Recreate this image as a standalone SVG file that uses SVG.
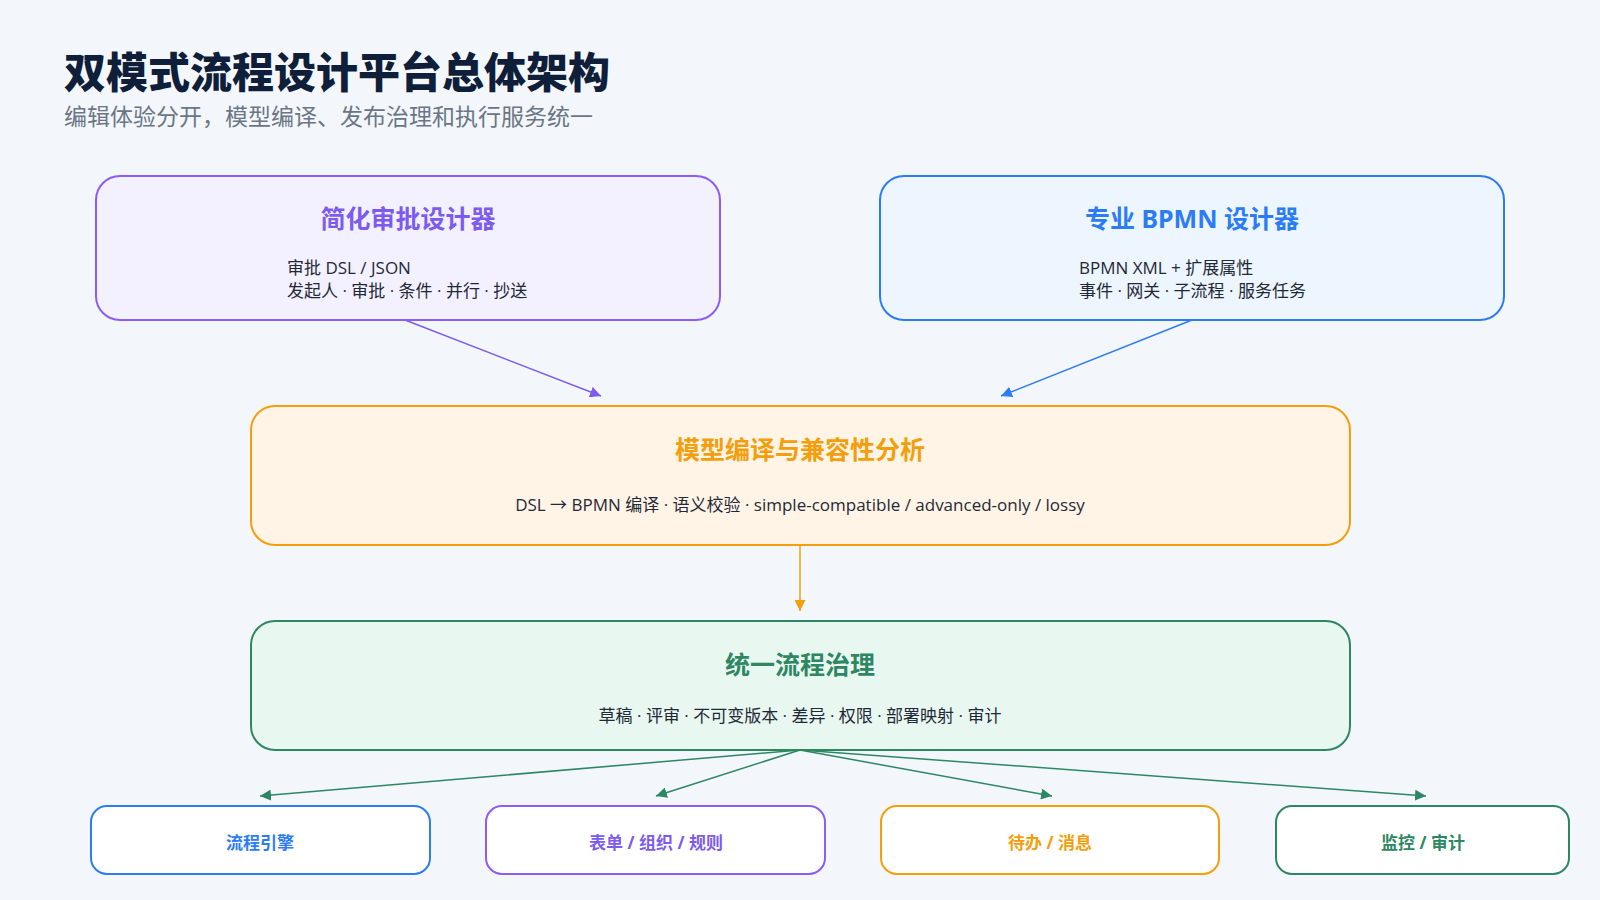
<svg xmlns="http://www.w3.org/2000/svg" width="1600" height="900" viewBox="0 0 1600 900">
<defs>
<style>
.cjk{font-family:"Noto Sans","Noto Sans CJK SC",sans-serif}
.h1{font-size:42px;font-weight:800;fill:#0f1f3a}
.sub{font-size:23px;fill:#6b7685}
.bt{font-size:25px;font-weight:700;text-anchor:middle}
.body{font-size:17px;fill:#1f2937}
.lat{font-family:"Open Sans","Noto Sans CJK SC",sans-serif}
.bl{font-size:17px;font-weight:700;text-anchor:middle}
.conn{fill:none;stroke-width:1.5}
</style>
<marker id="mP" markerWidth="11" markerHeight="11" refX="10" refY="5" orient="auto" markerUnits="userSpaceOnUse" viewBox="0 0 10 10"><path d="M0,0 L10,5 L0,10 z" fill="#7c5cf0"/></marker>
<marker id="mB" markerWidth="11" markerHeight="11" refX="10" refY="5" orient="auto" markerUnits="userSpaceOnUse" viewBox="0 0 10 10"><path d="M0,0 L10,5 L0,10 z" fill="#2b7cf6"/></marker>
<marker id="mO" markerWidth="11" markerHeight="11" refX="10" refY="5" orient="auto" markerUnits="userSpaceOnUse" viewBox="0 0 10 10"><path d="M0,0 L10,5 L0,10 z" fill="#f59e0b"/></marker>
<marker id="mG" markerWidth="11" markerHeight="11" refX="10" refY="5" orient="auto" markerUnits="userSpaceOnUse" viewBox="0 0 10 10"><path d="M0,0 L10,5 L0,10 z" fill="#2e8763"/></marker>
</defs>
<rect width="1600" height="900" fill="#f3f7fc"/>
<text class="cjk h1" x="64" y="88">双模式流程设计平台总体架构</text>
<text class="cjk sub" x="64" y="125">编辑体验分开，模型编译、发布治理和执行服务统一</text>

<g id="connectors">
<path class="conn" stroke="#7c5cf0" d="M405,320 L601,396" marker-end="url(#mP)"/>
<path class="conn" stroke="#2b7cf6" d="M1192,320 L1001,396" marker-end="url(#mB)"/>
<path class="conn" stroke="#f59e0b" d="M800,545 L800,611" marker-end="url(#mO)"/>
<path class="conn" stroke="#2e8763" d="M800,750 L260,796" marker-end="url(#mG)"/>
<path class="conn" stroke="#2e8763" d="M800,750 L656,796" marker-end="url(#mG)"/>
<path class="conn" stroke="#2e8763" d="M800,750 L1052,796" marker-end="url(#mG)"/>
<path class="conn" stroke="#2e8763" d="M800,750 L1426,796" marker-end="url(#mG)"/>
</g>

<g id="simple-designer">
<rect x="96" y="176" width="624" height="144" rx="24" fill="#f3f0ff" stroke="#8b5cf6" stroke-width="2"/>
<text class="cjk bt" x="408" y="228" fill="#7c5cf0">简化审批设计器</text>
<text class="lat body" x="287" y="274">审批 DSL / JSON</text>
<text class="lat body" x="287" y="297">发起人 · 审批 · 条件 · 并行 · 抄送</text>
</g>

<g id="bpmn-designer">
<rect x="880" y="176" width="624" height="144" rx="24" fill="#edf5ff" stroke="#2b7cf6" stroke-width="2"/>
<text class="cjk bt" x="1192" y="228" fill="#2b7cf6">专业 BPMN 设计器</text>
<text class="lat body" x="1079" y="274">BPMN XML + 扩展属性</text>
<text class="lat body" x="1079" y="297">事件 · 网关 · 子流程 · 服务任务</text>
</g>

<g id="compiler">
<rect x="251" y="406" width="1099" height="139" rx="24" fill="#fff4e6" stroke="#f59e0b" stroke-width="2"/>
<text class="cjk bt" x="800" y="459" fill="#f59e0b">模型编译与兼容性分析</text>
<text class="lat body" x="800" y="511" text-anchor="middle">DSL → BPMN 编译 · 语义校验 · simple-compatible / advanced-only / lossy</text>
</g>

<g id="governance">
<rect x="251" y="621" width="1099" height="129" rx="24" fill="#e9f7f1" stroke="#2e8763" stroke-width="2"/>
<text class="cjk bt" x="800" y="674" fill="#2e8763">统一流程治理</text>
<text class="lat body" x="800" y="722" text-anchor="middle">草稿 · 评审 · 不可变版本 · 差异 · 权限 · 部署映射 · 审计</text>
</g>

<g id="engine">
<rect x="91" y="806" width="339" height="68" rx="16" fill="#ffffff" stroke="#2b7cf6" stroke-width="2"/>
<text class="cjk bl" x="260" y="849" fill="#2b7cf6">流程引擎</text>
</g>
<g id="forms">
<rect x="486" y="806" width="339" height="68" rx="16" fill="#ffffff" stroke="#8b5cf6" stroke-width="2"/>
<text class="cjk bl" x="656" y="849" fill="#7c5cf0">表单 / 组织 / 规则</text>
</g>
<g id="todo">
<rect x="881" y="806" width="338" height="68" rx="16" fill="#ffffff" stroke="#f59e0b" stroke-width="2"/>
<text class="cjk bl" x="1050" y="849" fill="#f59e0b">待办 / 消息</text>
</g>
<g id="monitor">
<rect x="1276" y="806" width="293" height="68" rx="16" fill="#ffffff" stroke="#2e8763" stroke-width="2"/>
<text class="cjk bl" x="1423" y="849" fill="#2e8763">监控 / 审计</text>
</g>
</svg>
